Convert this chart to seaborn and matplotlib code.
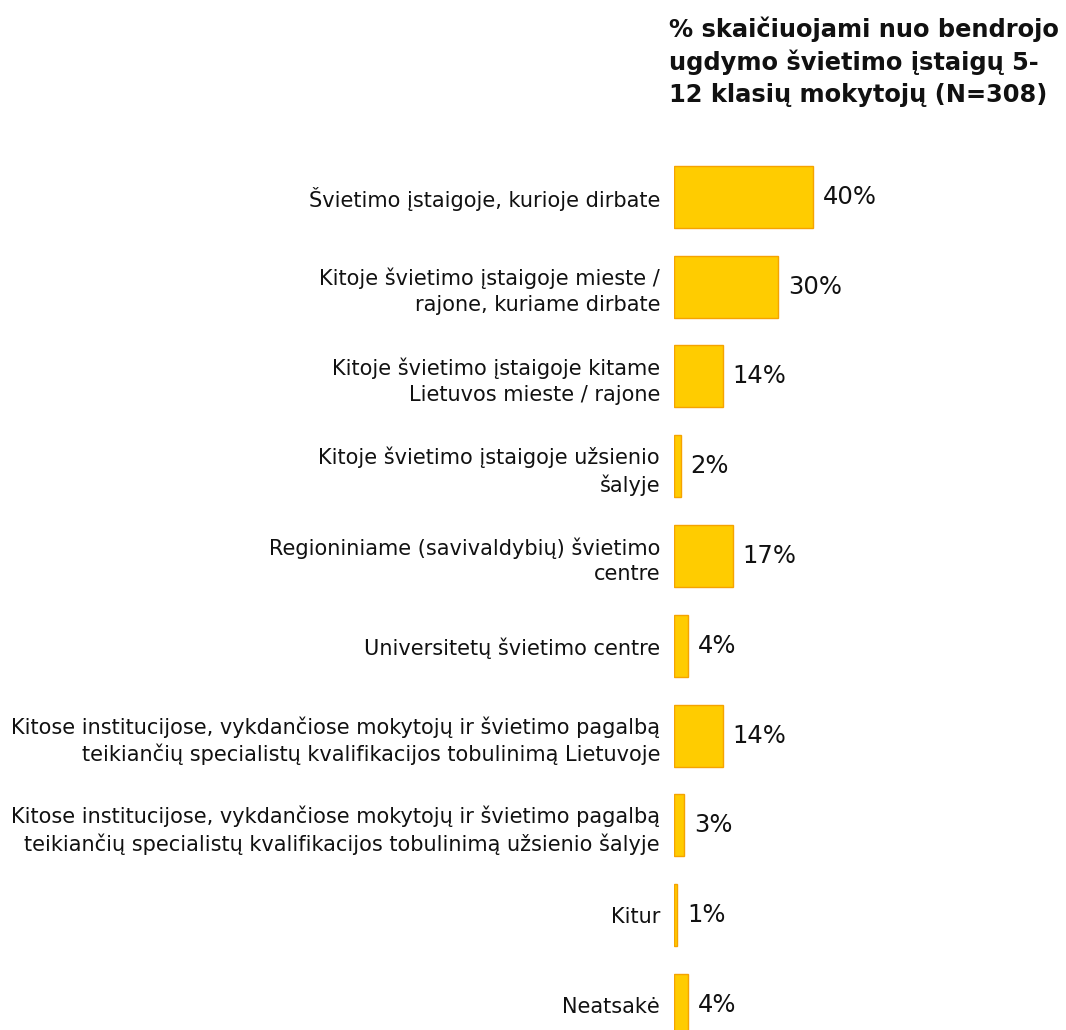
import matplotlib
matplotlib.use("Agg")
import matplotlib.pyplot as plt
import seaborn as sns
import pandas as pd

categories = [
    "Švietimo įstaigoje, kurioje dirbate",
    "Kitoje švietimo įstaigoje mieste /\nrajone, kuriame dirbate",
    "Kitoje švietimo įstaigoje kitame\nLietuvos mieste / rajone",
    "Kitoje švietimo įstaigoje užsienio\nšalyje",
    "Regioniniame (savivaldybių) švietimo\ncentre",
    "Universitetų švietimo centre",
    "Kitose institucijose, vykdančiose mokytojų ir švietimo pagalbą\nteikiančių specialistų kvalifikacijos tobulinimą Lietuvoje",
    "Kitose institucijose, vykdančiose mokytojų ir švietimo pagalbą\nteikiančių specialistų kvalifikacijos tobulinimą užsienio šalyje",
    "Kitur",
    "Neatsakė",
]
values = [40, 30, 14, 2, 17, 4, 14, 3, 1, 4]
title = "% skaičiuojami nuo bendrojo\nugdymo švietimo įstaigų 5-\n12 klasių mokytojų (N=308)"

df = pd.DataFrame({"category": categories, "value": values})

sns.set_theme(style="white")
plt.rcParams["font.family"] = ["DejaVu Sans"]

W, H = 1066, 1030
fig = plt.figure(figsize=(W / 100, H / 100), dpi=100)
# axes: left edge at x=674px, top at y=152px, bottom at figure bottom
ax = fig.add_axes([674 / W, 0, (W - 674) / W, (H - 152) / H])

sns.barplot(data=df, y="category", x="value", orient="h", ax=ax,
            color="#FFCC00", edgecolor="#F5A300", linewidth=1,
            width=0.69, saturation=1)

ax.set_xlim(0, 112.8)
ax.set_ylim(9.28, -0.5)
ax.set_xlabel("")
ax.set_ylabel("")
ax.set_xticks([])
for s in ax.spines.values():
    s.set_visible(False)
ax.tick_params(axis="y", length=0, pad=10, labelsize=15, labelcolor="#111111")
for lbl in ax.get_yticklabels():
    lbl.set_horizontalalignment("right")
    lbl.set_linespacing(1.35)

ax.bar_label(ax.containers[0], labels=[f"{v}%" for v in values],
             padding=7, fontsize=17.5, color="#111111")

fig.text(669 / W, 1 - 16 / H, title, ha="left", va="top",
         fontsize=17.4, fontweight="bold", color="#111111", linespacing=1.4)

fig.savefig("out.png", dpi=100)
